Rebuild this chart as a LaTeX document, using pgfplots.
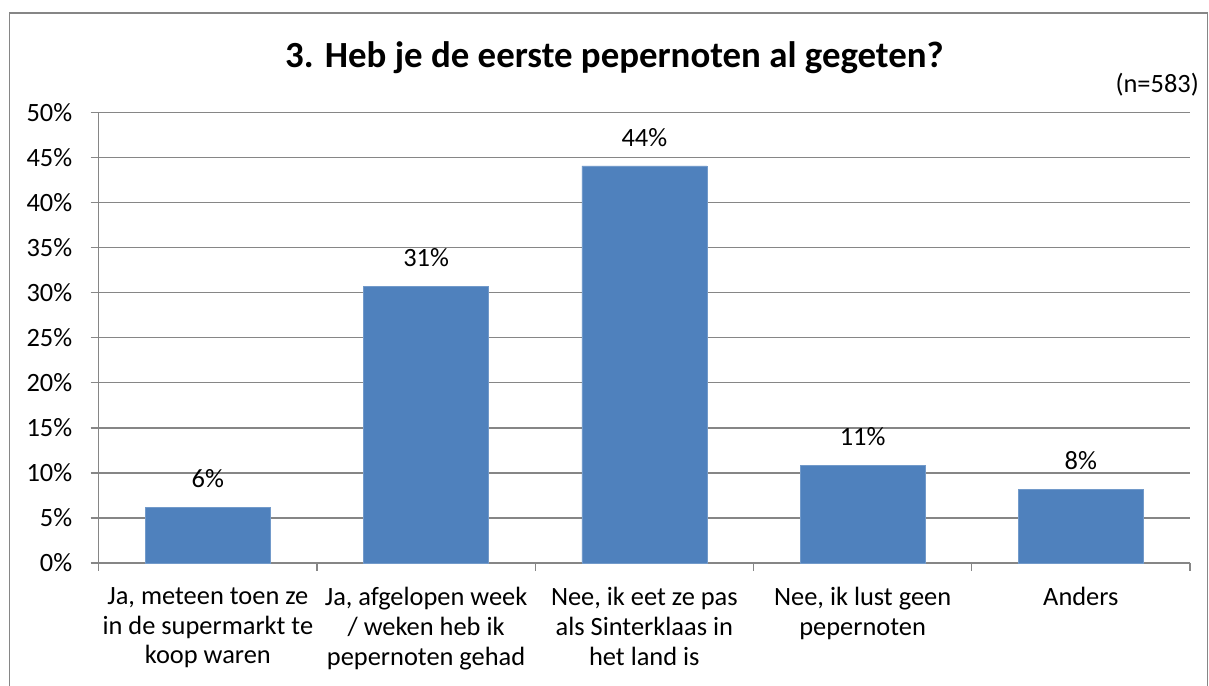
\documentclass[border=0pt]{standalone}
\usepackage{fontspec}
\setmainfont{Carlito}
\usepackage{pgfplots}
\pgfplotsset{compat=1.18}
\definecolor{barblue}{HTML}{4F81BD}
\definecolor{gridgray}{HTML}{868686}
\begin{document}
\begin{tikzpicture}[x=1bp,y=1bp]
\useasboundingbox (0,0) rectangle (1209,686);
\draw[gridgray, line width=1.5bp] (9.5,673) rectangle (1207.5,-10);
\node[anchor=base, font=\fontsize{37}{44}\selectfont\bfseries] at (614.5,618) {3. Heb je de eerste pepernoten al gegeten?};
\node[anchor=base east, font=\fontsize{26.5}{31}\selectfont, inner sep=0pt] at (1199,593) {(n=583)};
\begin{axis}[
  at={(98.7bp,123bp)}, anchor=south west,
  scale only axis, width=1091.3bp, height=450.3bp,
  xmin=-0.5, xmax=4.5, ymin=0, ymax=50,
  axis x line*=bottom, axis y line*=left,
  axis line style={gridgray, line width=1.2bp, -},
  ytick={0,5,...,50},
  yticklabel={\pgfmathprintnumber{\tick}\%},
  /pgf/number format/assume math mode=true,
  ymajorgrids, grid style={gridgray, line width=1.2bp},
  major tick length=8bp,
  tick align=outside,
  tick style={gridgray, line width=1.2bp},
  xtick={-0.5,0.5,1.5,2.5,3.5,4.5},
  xticklabels={},
  yticklabel style={font=\fontsize{26.5}{31}\selectfont, xshift=-15bp},
  ybar, bar width=125bp,
  nodes near coords, point meta=explicit symbolic,
  every node near coord/.append style={font=\fontsize{26.5}{31}\selectfont, black, yshift=16bp},
  clip=false,
]
\addplot[fill=barblue, draw=barblue!80!white] coordinates {
  (0,6.2) [6\%]
  (1,30.7) [31\%]
  (2,44.1) [44\%]
  (3,10.85) [11\%]
  (4,8.15) [8\%]
};
\foreach \i/\lab in {0/{Ja, meteen toen ze\\in de supermarkt te\\koop waren},
                     1/{Ja, afgelopen week\\/ weken heb ik\\pepernoten gehad},
                     2/{Nee, ik eet ze pas\\als Sinterklaas in\\het land is},
                     3/{Nee, ik lust geen\\pepernoten},
                     4/{Anders}} {
  \edef\temp{\noexpand\node[anchor=north, align=center, font=\noexpand\fontsize{26.5}{30}\noexpand\selectfont, inner sep=0pt] at (axis cs:\i,0) [yshift=-24bp] {\unexpanded\expandafter{\lab}};}
  \temp
}
\end{axis}
\end{tikzpicture}
\end{document}
